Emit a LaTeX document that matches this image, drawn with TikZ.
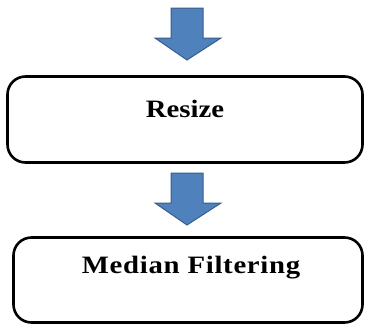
\documentclass[tikz,border=0pt]{standalone}
\usepackage{fontspec}
\setmainfont{Liberation Serif}
\definecolor{arrowfill}{HTML}{4F81BD}
\definecolor{arrowline}{HTML}{385D8A}
\tikzset{
  x=1pt,y=1pt,
  stepbox/.style={draw=black, line width=2.6pt, rounded corners=18pt, inner sep=0pt},
  steplabel/.style={font=\fontsize{25}{30}\selectfont\bfseries, inner sep=0pt},
  blockarrow/.style={fill=arrowfill, draw=arrowline, line width=1pt, line join=miter}
}
\begin{document}
\begin{tikzpicture}
\useasboundingbox (0,0) rectangle (366,325);
% block arrows
\draw[blockarrow] (171,317) -- (203,317) -- (203,287) -- (221,287) -- (187,265) -- (155,287) -- (171,287) -- cycle;
\draw[blockarrow] (171,152) -- (203,152) -- (203,122) -- (221,122) -- (187,100) -- (155,122) -- (171,122) -- cycle;
% boxes
\node[stepbox, minimum width=355pt, minimum height=86pt] (b1) at (185,205.5) {};
\node[stepbox, minimum width=349pt, minimum height=85pt] (b2) at (188,45) {};
\node[steplabel] (t1) at ([yshift=11pt]b1.center) {\scalebox{1.15}[1]{Resize}};
\node[steplabel] (t2) at ([xshift=3pt,yshift=12pt]b2.center) {\scalebox{1.15}[1]{\addfontfeature{LetterSpace=2.5}Median Filtering}};
\end{tikzpicture}
\end{document}
